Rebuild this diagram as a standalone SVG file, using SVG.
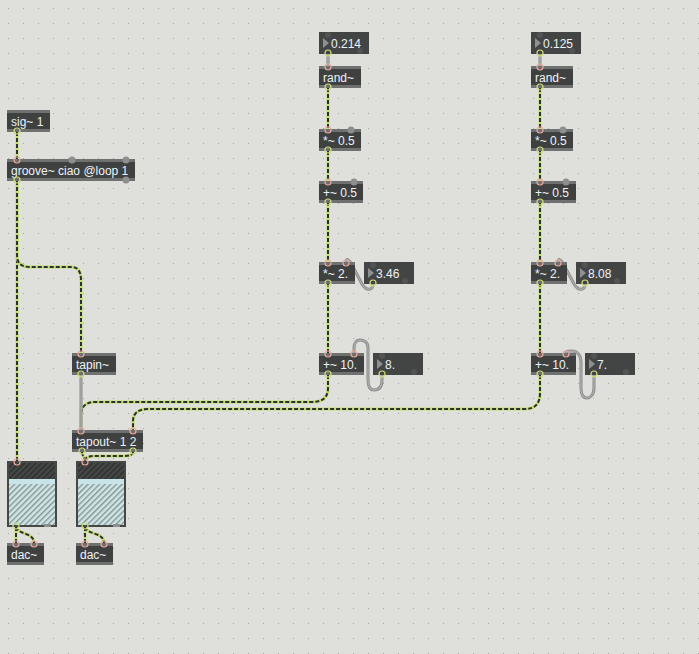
<svg xmlns="http://www.w3.org/2000/svg" width="699" height="654" viewBox="0 0 699 654">
<defs>
<pattern id="grid" width="15" height="15" patternUnits="userSpaceOnUse"><rect x="8" y="8" width="1" height="1" fill="#a6a6a2"/></pattern>
<pattern id="hatchDark" width="4" height="4" patternUnits="userSpaceOnUse" patternTransform="rotate(45)"><rect width="4" height="4" fill="#464747"/><rect width="1.6" height="4" fill="#2f3030"/></pattern>
<pattern id="hatchLight" width="4" height="4" patternUnits="userSpaceOnUse" patternTransform="rotate(45)"><rect width="4" height="4" fill="#d2e5e5"/><rect width="1.4" height="4" fill="#7f9597"/></pattern>
<path id="s1" d="M17,132 L17,159"/>
<path id="s2" d="M17,181 L17,461"/>
<path id="s3" d="M17,181 L17,255 C17,264 22,267 30,267 L72,267 C78,267 81,272 81,280 L81,353"/>
<path id="s4" d="M328,88 L328,129 M328,151 L328,181 M328,202 L328,262 M328,283 L328,353"/>
<path id="s5" d="M540,88 L540,129 M540,151 L540,181 M540,202 L540,262 M540,283 L540,353"/>
<path id="s6" d="M328,375 L328,388 C328,398 322,402 312,402 L95,402 C87,402 81,406 81,414 L81,430"/>
<path id="s7" d="M540,375 L540,393 C540,404 535,409 525,409 L148,409 C139,409 133,413 133,421 L133,430"/>
<path id="s8" d="M82,452 C82,456 85,457 85,461"/>
<path id="s9" d="M133,452 C133,455 130,456 122,456 L96,456 C89,456 85,457 85,461"/>
<path id="s10" d="M16,527 L16,543 M16,527 C18,535 34,532 34,543"/>
<path id="s11" d="M85,527 L85,543 M85,527 C87,535 104,532 104,543"/>
<path id="c1" d="M328,54 L328,66"/>
<path id="c2" d="M540,54 L540,66"/>
<path id="c3" d="M81,375 L81,430"/>
<path id="c4" d="M373,284 C373,291 366,291 362,284 L352,265 C349,259 346,258 346,262"/>
<path id="c5" d="M585,284 C585,291 578,291 574,284 L564,265 C561,259 558,258 558,262"/>
<path id="c6" d="M382,375 L382,380 C382,388 378,390 374,390 C370,390 368,386 368,380 L368,348 C368,342 364,340 360,340 C356,340 354,344 354,348 L354,353"/>
<path id="c7" d="M594,375 L594,388 C594,395 590,398 587,398 C583,398 581,394 581,388 L581,362 C581,355 577,351 572,351 C568,351 566,351 566,353"/>
</defs>
<style>
.strip{fill:#6f7171}
.body{fill:#3f4141}
.num{fill:#434545}
.t{font-family:"Liberation Sans",Arial,sans-serif;font-size:12px;fill:#eef3f8}
.sb{fill:none;stroke:#c2df72;stroke-width:3}
.sd{fill:none;stroke:#2e3030;stroke-width:2;stroke-dasharray:4 2}
.cb{fill:none;stroke:#8a8a8a;stroke-width:3;stroke-linecap:round}
.cl{fill:none;stroke:#aaaaaa;stroke-width:1.4;stroke-linecap:round}
.in{fill:none;stroke:#e9a79f;stroke-width:1.2}
.out{fill:none;stroke:#cfe07a;stroke-width:1.2}
.bump{fill:#8d8f8f}
.nb{fill:#525454}
.tri{fill:#8e9090}
.frame{fill:#464848}
.band{fill:#c9e4e8}
</style>
<rect width="699" height="654" fill="#dfdfdb"/>
<rect width="699" height="654" fill="url(#grid)"/>

<g id="connectors">
<use href="#s1" class="sb"/><use href="#s1" class="sd"/>
<use href="#s2" class="sb"/><use href="#s2" class="sd"/>
<use href="#s3" class="sb"/><use href="#s3" class="sd"/>
<use href="#s4" class="sb"/><use href="#s4" class="sd"/>
<use href="#s5" class="sb"/><use href="#s5" class="sd"/>
<use href="#s6" class="sb"/><use href="#s6" class="sd"/>
<use href="#s7" class="sb"/><use href="#s7" class="sd"/>
<use href="#s8" class="sb"/><use href="#s8" class="sd"/>
<use href="#s9" class="sb"/><use href="#s9" class="sd"/>
<use href="#s10" class="sb"/><use href="#s10" class="sd"/>
<use href="#s11" class="sb"/><use href="#s11" class="sd"/>
<use href="#c1" class="cb"/><use href="#c1" class="cl"/>
<use href="#c2" class="cb"/><use href="#c2" class="cl"/>
<use href="#c3" class="cb"/><use href="#c3" class="cl"/>
<use href="#c4" class="cb"/><use href="#c4" class="cl"/>
<use href="#c5" class="cb"/><use href="#c5" class="cl"/>
<use href="#c6" class="cb"/><use href="#c6" class="cl"/>
<use href="#c7" class="cb"/><use href="#c7" class="cl"/>
</g>

<g id="sig">
<rect class="strip" x="7" y="110" width="43" height="22"/><rect class="body" x="7" y="113" width="43" height="16"/>
<text class="t" x="11" y="126">sig~ 1</text>
<circle class="out" cx="17" cy="131" r="3"/>
</g>
<g id="groove">
<rect class="strip" x="7" y="159" width="128" height="22"/><rect class="body" x="7" y="162" width="128" height="16"/>
<text class="t" x="11" y="175">groove~ ciao @loop 1</text>
<circle class="bump" cx="72" cy="160" r="3.5"/><circle class="bump" cx="126" cy="160" r="3.5"/><circle class="bump" cx="126" cy="180" r="3.5"/>
<circle class="in" cx="17" cy="160" r="3"/><circle class="out" cx="17" cy="180" r="3"/>
</g>
<g id="tapin">
<rect class="strip" x="72" y="353" width="44" height="22"/><rect class="body" x="72" y="356" width="44" height="16"/>
<text class="t" x="76" y="369">tapin~</text>
<circle class="in" cx="81" cy="354" r="3"/><circle class="out" cx="81" cy="374" r="3"/>
</g>
<g id="tapout">
<rect class="strip" x="72" y="430" width="71" height="22"/><rect class="body" x="72" y="433" width="71" height="16"/>
<text class="t" x="76" y="446">tapout~ 1 2</text>
<circle class="in" cx="81" cy="431" r="3"/><circle class="in" cx="133" cy="431" r="3"/>
<circle class="out" cx="82" cy="451" r="3"/><circle class="out" cx="133" cy="451" r="3"/>
</g>
<g id="gainL">
<rect class="frame" x="7" y="461" width="50" height="66"/>
<rect x="9" y="463" width="46" height="16" fill="url(#hatchDark)"/>
<rect class="band" x="9" y="479" width="46" height="5"/>
<rect x="9" y="484" width="46" height="41" fill="url(#hatchLight)"/>
<rect class="bump" x="44" y="524" width="7" height="3"/>
<circle class="in" cx="17" cy="462" r="3"/><circle class="out" cx="16" cy="526" r="3"/>
</g>
<g id="gainR">
<rect class="frame" x="76" y="461" width="50" height="66"/>
<rect x="78" y="463" width="46" height="16" fill="url(#hatchDark)"/>
<rect class="band" x="78" y="479" width="46" height="5"/>
<rect x="78" y="484" width="46" height="41" fill="url(#hatchLight)"/>
<rect class="bump" x="113" y="524" width="7" height="3"/>
<circle class="in" cx="85" cy="462" r="3"/><circle class="out" cx="85" cy="526" r="3"/>
</g>
<g id="dacL">
<rect class="strip" x="7" y="543" width="37" height="22"/><rect class="body" x="7" y="546" width="37" height="16"/>
<text class="t" x="11" y="559">dac~</text>
<circle class="in" cx="16" cy="544" r="3"/><circle class="in" cx="34" cy="544" r="3"/>
</g>
<g id="dacR">
<rect class="strip" x="76" y="543" width="37" height="22"/><rect class="body" x="76" y="546" width="37" height="16"/>
<text class="t" x="80" y="559">dac~</text>
<circle class="in" cx="85" cy="544" r="3"/><circle class="in" cx="104" cy="544" r="3"/>
</g>

<g id="numL1">
<rect class="num" x="319" y="32" width="50" height="22"/>
<circle class="nb" cx="328" cy="35" r="3"/><circle class="nb" cx="360" cy="51" r="3"/>
<path class="tri" d="M323,38 L329,43 L323,48 Z"/>
<text class="t" x="331" y="48">0.214</text>
<circle class="out" cx="328" cy="53" r="3"/>
</g>
<g id="randL">
<rect class="strip" x="319" y="66" width="42" height="22"/><rect class="body" x="319" y="69" width="42" height="16"/>
<text class="t" x="323" y="82">rand~</text>
<circle class="in" cx="328" cy="67" r="3"/><circle class="out" cx="328" cy="87" r="3"/>
</g>
<g id="mulL1">
<rect class="strip" x="319" y="129" width="42" height="22"/><rect class="body" x="319" y="132" width="42" height="16"/>
<text class="t" x="323" y="145">*~ 0.5</text>
<circle class="bump" cx="351" cy="130" r="3.5"/>
<circle class="in" cx="328" cy="130" r="3"/><circle class="out" cx="328" cy="150" r="3"/>
</g>
<g id="addL1">
<rect class="strip" x="319" y="181" width="44" height="22"/><rect class="body" x="319" y="184" width="44" height="16"/>
<text class="t" x="323" y="197">+~ 0.5</text>
<circle class="bump" cx="354" cy="182" r="3.5"/>
<circle class="in" cx="328" cy="182" r="3"/><circle class="out" cx="328" cy="202" r="3"/>
</g>
<g id="mulL2">
<rect class="strip" x="319" y="262" width="36" height="22"/><rect class="body" x="319" y="265" width="36" height="16"/>
<text class="t" x="323" y="278">*~ 2.</text>
<circle class="in" cx="328" cy="263" r="3"/><circle class="in" cx="346" cy="263" r="3"/><circle class="out" cx="328" cy="283" r="3"/>
</g>
<g id="numL2">
<rect class="num" x="364" y="262" width="50" height="22"/>
<circle class="nb" cx="373" cy="265" r="3"/><circle class="nb" cx="405" cy="281" r="3"/>
<path class="tri" d="M368,268 L374,273 L368,278 Z"/>
<text class="t" x="376" y="278">3.46</text>
<circle class="out" cx="373" cy="283" r="3"/>
</g>
<g id="addL2">
<rect class="strip" x="319" y="353" width="45" height="22"/><rect class="body" x="319" y="356" width="45" height="16"/>
<text class="t" x="323" y="369">+~ 10.</text>
<circle class="in" cx="328" cy="354" r="3"/><circle class="in" cx="354" cy="354" r="3"/><circle class="out" cx="328" cy="374" r="3"/>
</g>
<g id="numL3">
<rect class="num" x="373" y="353" width="50" height="22"/>
<circle class="nb" cx="382" cy="356" r="3"/><circle class="nb" cx="414" cy="372" r="3"/>
<path class="tri" d="M377,359 L383,364 L377,369 Z"/>
<text class="t" x="385" y="369">8.</text>
<circle class="out" cx="382" cy="374" r="3"/>
</g>

<g id="numR1">
<rect class="num" x="531" y="32" width="50" height="22"/>
<circle class="nb" cx="540" cy="35" r="3"/><circle class="nb" cx="572" cy="51" r="3"/>
<path class="tri" d="M535,38 L541,43 L535,48 Z"/>
<text class="t" x="543" y="48">0.125</text>
<circle class="out" cx="540" cy="53" r="3"/>
</g>
<g id="randR">
<rect class="strip" x="531" y="66" width="42" height="22"/><rect class="body" x="531" y="69" width="42" height="16"/>
<text class="t" x="535" y="82">rand~</text>
<circle class="in" cx="540" cy="67" r="3"/><circle class="out" cx="540" cy="87" r="3"/>
</g>
<g id="mulR1">
<rect class="strip" x="531" y="129" width="42" height="22"/><rect class="body" x="531" y="132" width="42" height="16"/>
<text class="t" x="535" y="145">*~ 0.5</text>
<circle class="bump" cx="563" cy="130" r="3.5"/>
<circle class="in" cx="540" cy="130" r="3"/><circle class="out" cx="540" cy="150" r="3"/>
</g>
<g id="addR1">
<rect class="strip" x="531" y="181" width="45" height="22"/><rect class="body" x="531" y="184" width="45" height="16"/>
<text class="t" x="535" y="197">+~ 0.5</text>
<circle class="bump" cx="566" cy="182" r="3.5"/>
<circle class="in" cx="540" cy="182" r="3"/><circle class="out" cx="540" cy="202" r="3"/>
</g>
<g id="mulR2">
<rect class="strip" x="531" y="262" width="36" height="22"/><rect class="body" x="531" y="265" width="36" height="16"/>
<text class="t" x="535" y="278">*~ 2.</text>
<circle class="in" cx="540" cy="263" r="3"/><circle class="in" cx="558" cy="263" r="3"/><circle class="out" cx="540" cy="283" r="3"/>
</g>
<g id="numR2">
<rect class="num" x="576" y="262" width="50" height="22"/>
<circle class="nb" cx="585" cy="265" r="3"/><circle class="nb" cx="617" cy="281" r="3"/>
<path class="tri" d="M580,268 L586,273 L580,278 Z"/>
<text class="t" x="588" y="278">8.08</text>
<circle class="out" cx="585" cy="283" r="3"/>
</g>
<g id="addR2">
<rect class="strip" x="531" y="353" width="45" height="22"/><rect class="body" x="531" y="356" width="45" height="16"/>
<text class="t" x="535" y="369">+~ 10.</text>
<circle class="in" cx="540" cy="354" r="3"/><circle class="in" cx="566" cy="354" r="3"/><circle class="out" cx="540" cy="374" r="3"/>
</g>
<g id="numR3">
<rect class="num" x="585" y="353" width="50" height="22"/>
<circle class="nb" cx="594" cy="356" r="3"/><circle class="nb" cx="626" cy="372" r="3"/>
<path class="tri" d="M589,359 L595,364 L589,369 Z"/>
<text class="t" x="597" y="369">7.</text>
<circle class="out" cx="594" cy="374" r="3"/>
</g>
</svg>
